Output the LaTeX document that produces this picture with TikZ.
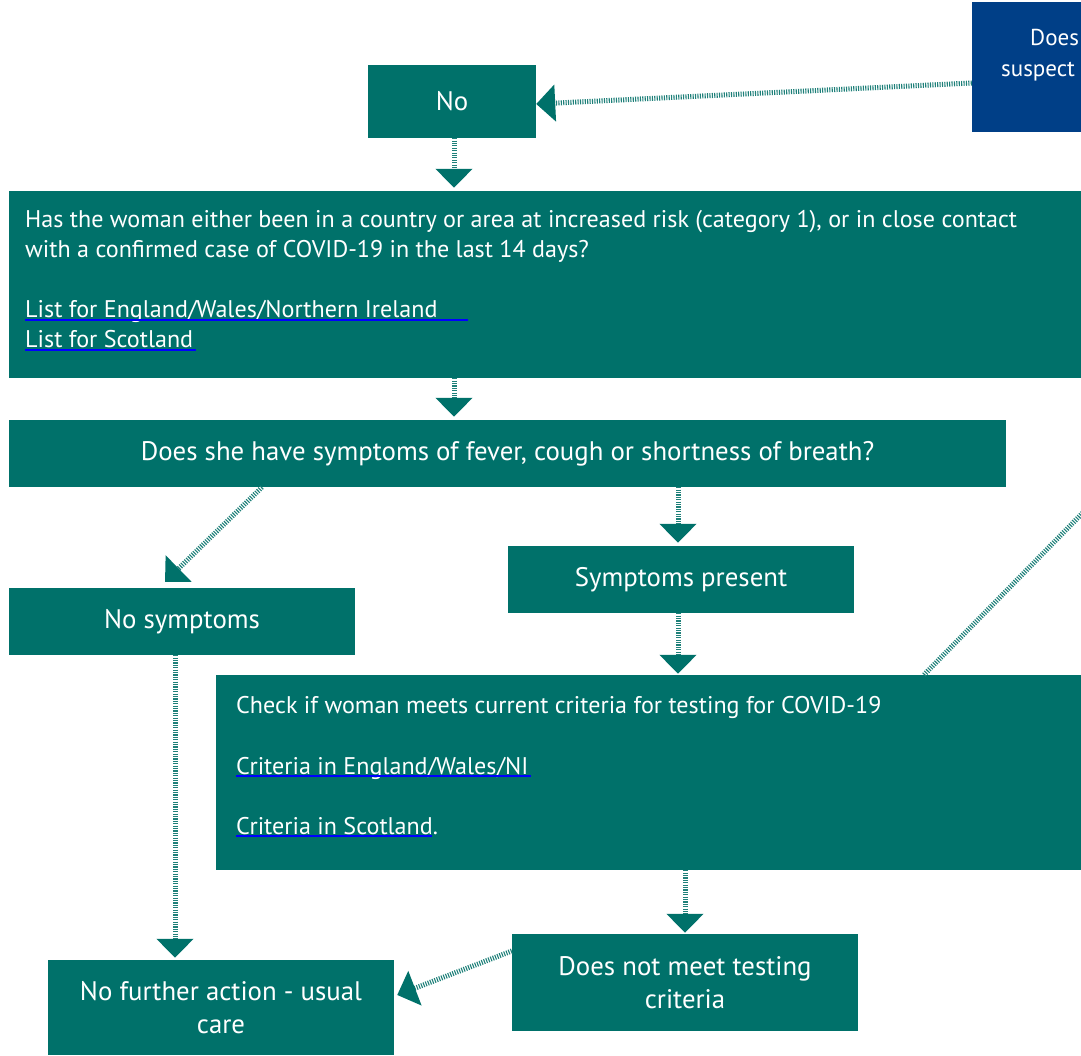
\documentclass[tikz,border=0pt]{standalone}
\usepackage{fontspec}
\setmainfont{PT Sans}
\usetikzlibrary{arrows.meta,calc}
\definecolor{nteal}{HTML}{00716A}
\definecolor{nblue}{HTML}{003F87}
\definecolor{stripe}{HTML}{1E8079}
\definecolor{linkblue}{HTML}{0000FF}
\tikzset{
  box/.style={fill=nteal, draw=none, text=white, inner sep=0pt, align=center,
    font=\fontsize{26.8}{33}\selectfont},
  bluebox/.style={fill=nblue, draw=none, inner sep=0pt},
  txt/.style={text=white, inner sep=0pt, anchor=base west, font=\fontsize{24.1}{31}\selectfont},
  bluetxt/.style={text=white, inner sep=0pt, anchor=base west, font=\fontsize{23}{31}\selectfont},
  conn/.style={draw=stripe, line width=5pt, dash pattern=on 1.1pt off 1.3pt,
    -{Triangle[length=19pt,width=36pt,color=nteal]}},
  plainconn/.style={draw=stripe, line width=5pt, dash pattern=on 1.1pt off 1.3pt},
  link/.style={draw=linkblue, line width=1.5pt}
}
\begin{document}
\begin{tikzpicture}[x=1pt,y=-1pt]
\useasboundingbox (0,0) rectangle (1081,1056);
\clip (0,0) rectangle (1081,1056);

% boxes
\node[bluebox, minimum width=178pt, minimum height=130pt] (blue) at (1061,67) {};
\node[bluetxt] (blueL1) at (1030,46) {Does};
\node[bluetxt] (blueL2) at (1001,77) {suspect};

\node[box, minimum width=168pt, minimum height=73pt] (no) at (452,101.5) {No};

\node[box, minimum width=1091pt, minimum height=187pt] (has) at (554.5,284.5) {};
\node[txt] (hasL1) at (25,228) {Has the woman either been in a country or area at increased risk (category 1), or in close contact};
\node[txt] (hasL2) at (25,258) {with a confirmed case of COVID-19 in the last 14 days?};
\node[txt] (hasL3) at (25,318) {List for England/Wales/Northern Ireland};
\node[txt] (hasL4) at (25,348) {List for Scotland};
\draw[link] (25,320) -- (468,320);
\draw[link] (25,350) -- (196,350);

\node[box, minimum width=997pt, minimum height=67pt] (ds) at (507.5,453.5) {Does she have symptoms of fever, cough or shortness of breath?};

\node[box, minimum width=346pt, minimum height=67pt] (sp) at (681,579.5) {Symptoms present};
\node[box, minimum width=346pt, minimum height=67pt] (nosym) at (182,621.5) {No symptoms};

\node[box, minimum width=884pt, minimum height=195pt] (chk) at (658,772.5) {};
\node[txt] (chkL1) at (236,713) {Check if woman meets current criteria for testing for COVID-19};
\node[txt] (chkL2) at (236,774) {Criteria in England/Wales/NI};
\node[txt] (chkL3) at (236,834) {Criteria in Scotland.};
\draw[link] (236,776) -- (531,776);
\draw[link] (236,836) -- (432,836);

\node[box, minimum width=346pt, minimum height=97pt] (dnm) at (685,982.5) {Does not meet testing\\criteria};
\node[box, minimum width=346pt, minimum height=95pt] (nfa) at (221,1007.5) {No further action - usual\\care};

% connectors
\coordinate (offright) at (1110,485);
\draw[conn] ([yshift=-16pt]blue.west) -- ([yshift=-2.5pt]no.east);
\draw[conn, shorten >=3pt] ([xshift=2pt]no.south) -- ([xshift=2pt]no.south |- has.north);
\draw[conn, shorten >=3pt] ([xshift=2pt]no.south |- has.south) -- ([xshift=2pt]no.south |- ds.north);
\draw[conn] (ds.south -| 262,0) -- ([shift={(-17pt,6pt)}]nosym.north);
\draw[conn, shorten >=3pt] ([xshift=-3pt]sp.north |- ds.south) -- ([xshift=-3pt]sp.north);
\draw[conn, shorten >=1pt] ([xshift=-3pt]sp.south) -- ([xshift=-3pt]sp.south |- chk.north);
\draw[plainconn] (chk.north -| 924,0) -- (offright);
\draw[conn, shorten >=2pt] ([xshift=-7pt]nosym.south) -- ([xshift=-7pt]nosym.south |- nfa.north);
\draw[conn, shorten >=1pt] (dnm.north |- chk.south) -- (dnm.north);
\draw[conn] ([yshift=31.5pt]dnm.west) -- ([shift={(3pt,12.5pt)}]nfa.east);
\end{tikzpicture}
\end{document}
